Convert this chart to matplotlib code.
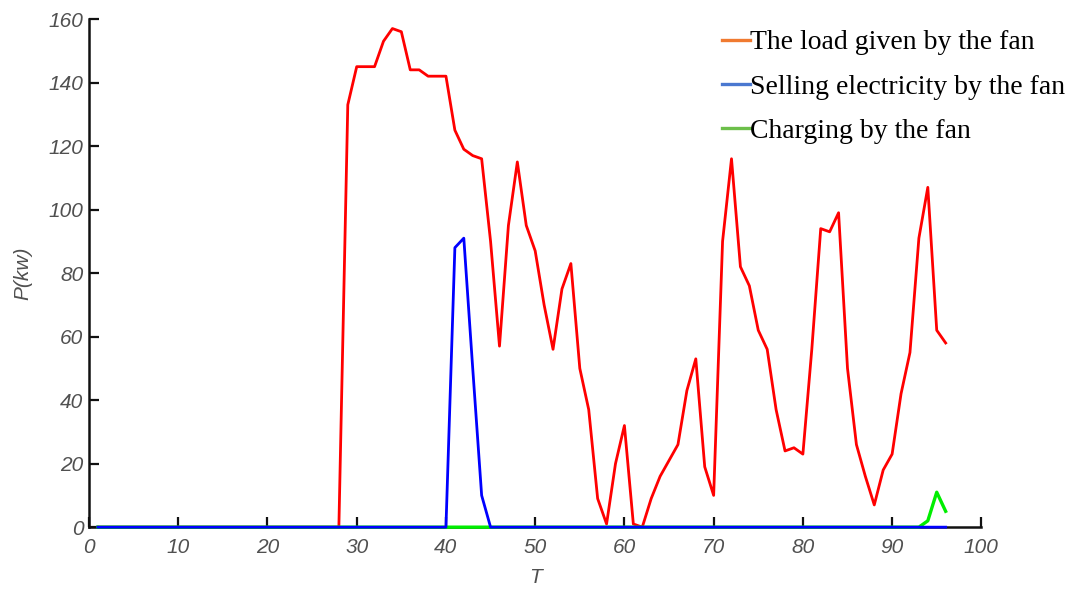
#!/usr/bin/env python3
import matplotlib
matplotlib.use("Agg")
import matplotlib.pyplot as plt
from matplotlib.lines import Line2D

# time steps 1..96
T = list(range(1, 97))

# load given by the fan (red curve)
load_fan = [0, 0, 0, 0, 0, 0, 0, 0, 0, 0, 0, 0, 0, 0, 0, 0,
            0, 0, 0, 0, 0, 0, 0, 0, 0, 0, 0, 0, 133, 145, 145, 145,
            153, 157, 156, 144, 144, 142, 142, 142, 125, 119, 117, 116, 90, 57, 95, 115,
            95, 87, 70, 56, 75, 83, 50, 37, 9, 1, 20, 32, 1, 0, 9, 16,
            21, 26, 43, 53, 19, 10, 90, 116, 82, 76, 62, 56, 37, 24, 25, 23,
            56, 94, 93, 99, 50, 26, 16, 7, 18, 23, 42, 55, 91, 107, 62, 58]

# selling electricity by the fan (blue curve)
sell_fan = [0, 0, 0, 0, 0, 0, 0, 0, 0, 0, 0, 0, 0, 0, 0, 0,
            0, 0, 0, 0, 0, 0, 0, 0, 0, 0, 0, 0, 0, 0, 0, 0,
            0, 0, 0, 0, 0, 0, 0, 0, 88, 91, 50, 10, 0, 0, 0, 0,
            0, 0, 0, 0, 0, 0, 0, 0, 0, 0, 0, 0, 0, 0, 0, 0,
            0, 0, 0, 0, 0, 0, 0, 0, 0, 0, 0, 0, 0, 0, 0, 0,
            0, 0, 0, 0, 0, 0, 0, 0, 0, 0, 0, 0, 0, 0, 0, 0]

# charging by the fan (green curve)
charge_fan = [0, 0, 0, 0, 0, 0, 0, 0, 0, 0, 0, 0, 0, 0, 0, 0,
              0, 0, 0, 0, 0, 0, 0, 0, 0, 0, 0, 0, 0, 0, 0, 0,
              0, 0, 0, 0, 0, 0, 0, 0, 0, 0, 0, 0, 0, 0, 0, 0,
              0, 0, 0, 0, 0, 0, 0, 0, 0, 0, 0, 0, 0, 0, 0, 0,
              0, 0, 0, 0, 0, 0, 0, 0, 0, 0, 0, 0, 0, 0, 0, 0,
              0, 0, 0, 0, 0, 0, 0, 0, 0, 0, 0, 0, 0, 2, 11, 5]

labels = ["The load given by the fan",
          "Selling electricity by the fan",
          "Charging by the fan"]
xticks = [0, 10, 20, 30, 40, 50, 60, 70, 80, 90, 100]
yticks = [0, 20, 40, 60, 80, 100, 120, 140, 160]

fig = plt.figure(figsize=(10.79, 5.89), dpi=100)
ax = fig.add_axes([0.0825, 0.105, 0.827, 0.8627])

ax.plot(T, load_fan, color="#ff0000", lw=2.0, zorder=2, clip_on=False)
ax.plot(T, charge_fan, color="#00ee00", lw=2.4, zorder=3, clip_on=False)
ax.plot(T, sell_fan, color="#0000ff", lw=2.0, zorder=4, clip_on=False)

ax.set_xlim(0, 100)
ax.set_ylim(0, 160)
ax.set_xticks(xticks)
ax.set_yticks(yticks)

for s in ["top", "right"]:
    ax.spines[s].set_visible(False)
for s in ["left", "bottom"]:
    ax.spines[s].set_linewidth(1.8)
    ax.spines[s].set_color("#111111")

ax.tick_params(direction="in", length=7, width=1.6, colors="#111111",
               labelcolor="#505050", labelsize=15, pad=8)
ax.tick_params(axis="y", pad=4)
for lab in ax.get_xticklabels() + ax.get_yticklabels():
    lab.set_fontstyle("italic")
    lab.set_family("Liberation Sans")

ax.set_xlabel("T", fontsize=15, fontstyle="italic", family="Liberation Sans",
              color="#505050", labelpad=8)
ax.set_ylabel("P(kw)", fontsize=15, fontstyle="italic", family="Liberation Sans",
              color="#505050", labelpad=12)

# legend handles use different colours than the plotted lines (as in the picture)
handles = [Line2D([], [], color="#f07a30", lw=2.4),
           Line2D([], [], color="#4a78d0", lw=2.4),
           Line2D([], [], color="#6cbf4a", lw=2.4)]
fig.legend(handles, labels, loc="upper left", bbox_to_anchor=(722 / 1079, 1 - 30 / 589),
           frameon=False, handlelength=1.0, handletextpad=0.0, labelspacing=0.67,
           borderpad=0, borderaxespad=0,
           prop={"family": "Liberation Serif", "size": 20})

fig.savefig("out.png", dpi=100)
